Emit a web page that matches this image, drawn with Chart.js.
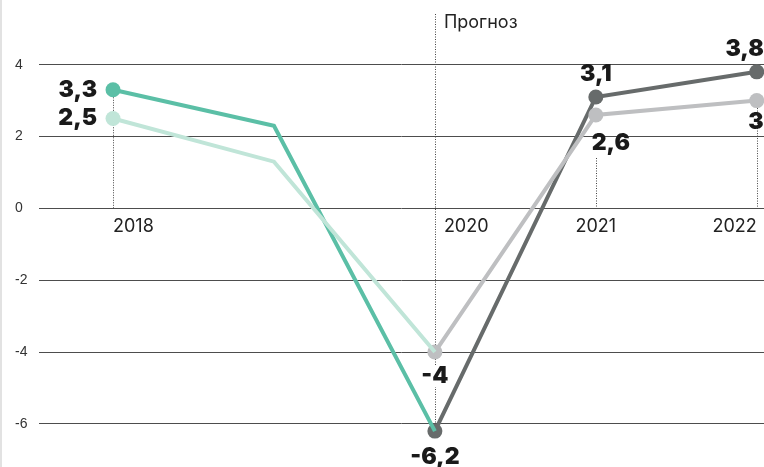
<!DOCTYPE html>
<html><head><meta charset="utf-8">
<script src="https://cdn.jsdelivr.net/npm/chart.js@4"></script>
<style>html,body{margin:0;padding:0;background:#fff}canvas{display:block}</style>
</head><body>
<canvas id="c" width="764" height="467"></canvas>
<script>
const years = [2018, 2019, 2020, 2021, 2022];
const actualA = [3.3, 2.3, -6.2, null, null];
const actualB = [2.5, 1.3, -4, null, null];
const forecastA = [null, null, -6.2, 3.1, 3.8];
const forecastB = [null, null, -4, 2.6, 3.0];
const yTicks = [-6, -4, -2, 0, 2, 4];
const yearLabels = ['2018', '2020', '2021', '2022'];
const forecastTitle = 'Прогноз';

const C_TEAL = '#5bbfa6', C_TEAL_L = '#c0e5d8', C_GRAY = '#676b6b', C_GRAY_L = '#bebfc1';
const pts = arr => years.map((x, i) => ({x, y: arr[i]}));

const labelFont = '900 23px Inter, "Noto Sans", sans-serif';
const labels = [
  {x: 2018, y: 3.3, text: '3,3', align: 'right', dx: -16, dy: 0},
  {x: 2018, y: 2.5, text: '2,5', align: 'right', dx: -16, dy: 0},
  {x: 2020, y: -4, text: '-4', align: 'center', dx: 0, dy: 24},
  {x: 2020, y: -6.2, text: '-6,2', align: 'center', dx: 0, dy: 26},
  {x: 2021, y: 3.1, text: '3,1', align: 'center', dx: 0, dy: -23},
  {x: 2021, y: 2.6, text: '2,6', align: 'center', dx: 15, dy: 28},
  {x: 2022, y: 3.8, text: '3,8', align: 'right', dx: 7, dy: -23},
  {x: 2022, y: 3.0, text: '3', align: 'right', dx: 7, dy: 21}
];

const deco = {
  id: 'deco',
  beforeDatasetsDraw(chart) {
    const {ctx, scales: {x, y}} = chart;
    ctx.save();
    ctx.strokeStyle = '#e2e2e2'; ctx.lineWidth = 2;
    ctx.beginPath(); ctx.moveTo(1, 0); ctx.lineTo(1, 467); ctx.stroke();
    ctx.strokeStyle = '#444'; ctx.lineWidth = 1; ctx.setLineDash([1, 1.5]);
    const seg = (xv, y1, y2) => { const px = Math.round(x.getPixelForValue(xv)) + 0.5; ctx.beginPath(); ctx.moveTo(px, y1); ctx.lineTo(px, y2); ctx.stroke(); };
    seg(2018, y.getPixelForValue(3.3), y.getPixelForValue(0));
    seg(2020, 14, y.getPixelForValue(-6.2));
    seg(2021, 158, y.getPixelForValue(0));
    seg(2022, y.getPixelForValue(3.0), y.getPixelForValue(0));
    ctx.setLineDash([]);
    ctx.fillStyle = '#fff';
    ctx.fillRect(x.getPixelForValue(2020) - 14, y.getPixelForValue(-4) + 13, 28, 22);
    ctx.fillStyle = '#222'; ctx.font = '400 18px Inter, sans-serif';
    ctx.textAlign = 'left'; ctx.textBaseline = 'middle';
    ctx.fillText(forecastTitle, x.getPixelForValue(2020) + 9, 23);
    const y0 = y.getPixelForValue(0) + 18;
    ctx.font = '400 18px Inter, sans-serif';
    const al = ['left', 'left', 'center', 'right'];
    const off = [0, 9, 0, 0];
    const yrs = [2018, 2020, 2021, 2022];
    yearLabels.forEach((t, i) => { ctx.textAlign = al[i]; ctx.fillText(t, x.getPixelForValue(yrs[i]) + off[i], y0); });
    ctx.restore();
  },
  afterDatasetsDraw(chart) {
    const {ctx, scales: {x, y}} = chart;
    ctx.save();
    ctx.fillStyle = '#1a1a1a'; ctx.font = labelFont; ctx.textBaseline = 'middle';
    labels.forEach(l => {
      ctx.textAlign = l.align;
      ctx.fillText(l.text, x.getPixelForValue(l.x) + l.dx, y.getPixelForValue(l.y) + l.dy);
    });
    ctx.restore();
  }
};

const ds = (data, color, radius) => ({
  data: pts(data), borderColor: color, backgroundColor: color, borderWidth: 4,
  pointRadius: radius, pointHoverRadius: radius, pointBorderWidth: 0, spanGaps: false, clip: false, tension: 0
});

new Chart(document.getElementById('c'), {
  type: 'line',
  data: {datasets: [
    ds(actualB, C_TEAL_L, [7.5, 0, 0, 0, 0]),
    ds(actualA, C_TEAL, [7.5, 0, 0, 0, 0]),
    ds(forecastB, C_GRAY_L, [0, 0, 7.5, 7.5, 7.5]),
    ds(forecastA, C_GRAY, [0, 0, 7.5, 7.5, 7.5])
  ]},
  options: {
    responsive: false, animation: false,
    layout: {padding: {left: 15, right: 0, top: 0, bottom: 0}, autoPadding: false},
    plugins: {legend: {display: false}, tooltip: {enabled: false}},
    scales: {
      x: {type: 'linear', display: false, min: 2017.54, max: 2022.045},
      y: {
        min: -7.2, max: 5.8,
        afterBuildTicks: s => { s.ticks = yTicks.map(v => ({value: v})); },
        afterFit: s => { s.width = 24; s.paddingTop = 0; s.paddingBottom = 0; },
        border: {display: false},
        grid: {color: '#4d4d4d', lineWidth: 1, drawTicks: false},
        ticks: {color: '#333', font: {family: '"Liberation Sans", Arial, sans-serif', size: 14}, crossAlign: 'far', padding: 0}
      }
    }
  },
  plugins: [deco]
});
</script>
</body></html>
